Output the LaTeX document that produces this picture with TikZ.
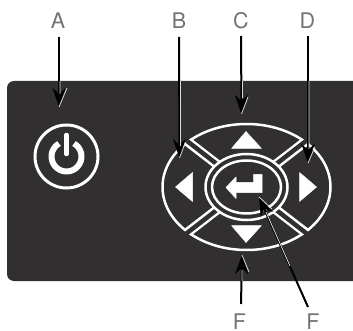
\documentclass[tikz,border=0pt]{standalone}
\usepackage{fontspec}
\setmainfont{TeX Gyre Heros}
\usetikzlibrary{arrows.meta,calc}
\definecolor{panel}{HTML}{312F30}
\tikzset{
  keyline/.style={white,line width=2.5pt},
  keysign/.style={fill=white,draw=white,line width=0.5pt,line join=round},
  letter/.style={text=black!55,font=\fontsize{21.5}{21.5}\selectfont,inner sep=0pt},
  leader/.style={black,line width=2pt,-{Stealth[length=19pt,width=13pt,inset=6pt]}},
  halfline/.style={white!85!black,line width=0.8pt}
}
\begin{document}
\begin{tikzpicture}[x=1pt,y=1pt]
    \useasboundingbox (0,0) rectangle (353,-331);
    % panel
    \fill[panel] (353,-81)--(14,-81)arc (90:180:7)--(7,-274)arc (180:270:7)--(353,-281)--cycle;
    % power key
    \coordinate (power) at (66.5,-156.5);
    \draw[white,line width=3pt] (power) circle (31.5);
    \draw[white,line width=6pt] ($(power)+(60:15)$) arc (60:-240:15);
    \draw[panel,line width=8pt] (66.5,-131)--(66.5,-157);
    \draw[white,line width=4.5pt,line cap=round] (66.5,-135)--(66.5,-154);
    % keypad
    \coordinate (keypad) at (246.5,-187);
    \begin{scope}
      \clip (keypad) ellipse (85 and 64);
      \draw[white,line width=9.5pt] (182,-137.3)--(311,-236.7) (182,-236.7)--(311,-137.3);
    \end{scope}
    \draw[keyline] (keypad) ellipse (84 and 63);
    \draw[panel,line width=4.5pt] (178,-134)--(315,-240) (178,-240)--(315,-134);
    \draw[keyline,fill=panel] (keypad) ellipse (41 and 33);
    \draw[keyline] (keypad) ellipse (34.5 and 26.5);
    \draw[keysign] (246,-131.5)--(231.5,-148.5)--(261.5,-148.5)--cycle;
    \draw[keysign] (246,-242.5)--(231.5,-225.5)--(261.5,-225.5)--cycle;
    \draw[keysign] (175.5,-187)--(192.5,-172.5)--(192.5,-201.5)--cycle;
    \draw[keysign] (316.5,-187)--(299.5,-172.5)--(299.5,-201.5)--cycle;
    \draw[keysign] (226,-187.5)--(236,-177)--(236,-182.5)--(253.5,-182.5)--(253.5,-174.5)--(262,-174.5)--(262,-192.5)--(236,-192.5)--(236,-198.5)--cycle;
    % labels
    \node[letter] (lblA) at (58,-20.5){A};
    \node[letter] (lblB) at (179,-20.5){B};
    \node[letter] (lblC) at (241,-20.5){C};
    \node[letter] (lblD) at (307.5,-20.5){D};
    \node[letter] (lblE) at (239.5,-321.5){F};
    \node[letter] (lblF) at (313,-321.5){F};
    % tips
    \coordinate (tipA) at (59,-107);
    \coordinate (tipB) at (179.5,-158);
    \coordinate (tipC) at (241.5,-114);
    \coordinate (tipD) at (308,-163);
    \coordinate (tipE) at (242,-255);
    \coordinate (tipF) at (259,-197);
    % leaders
    \draw[leader] (59,-37)--(tipA);
    \draw[leader] (179,-37)--(tipB);
    \draw[leader] (241,-36)--(tipC);
    \draw[leader] (308,-36)--(tipD);
    \draw[leader] (241,-304)--(tipE);
    \draw[leader] (308,-307)--(tipF);
    % white side of the leaders
    \draw[halfline] (60,-81)--(60,-94) (67,-88)--(tipA);
    \draw[halfline] (180.5,-81)--(180.5,-146) (185.5,-142)--(tipB);
    \draw[halfline] (242.5,-81)--(242.5,-98) (248,-97)--(tipC);
    \draw[halfline] (309,-81)--(309,-149) (315,-147)--(tipD);
    \draw[halfline] (242,-281)--(242,-270) (249,-272)--(tipE);
    \draw[halfline] (290,-266)--(266,-212) (272,-209)--(tipF);
\end{tikzpicture}
\end{document}
